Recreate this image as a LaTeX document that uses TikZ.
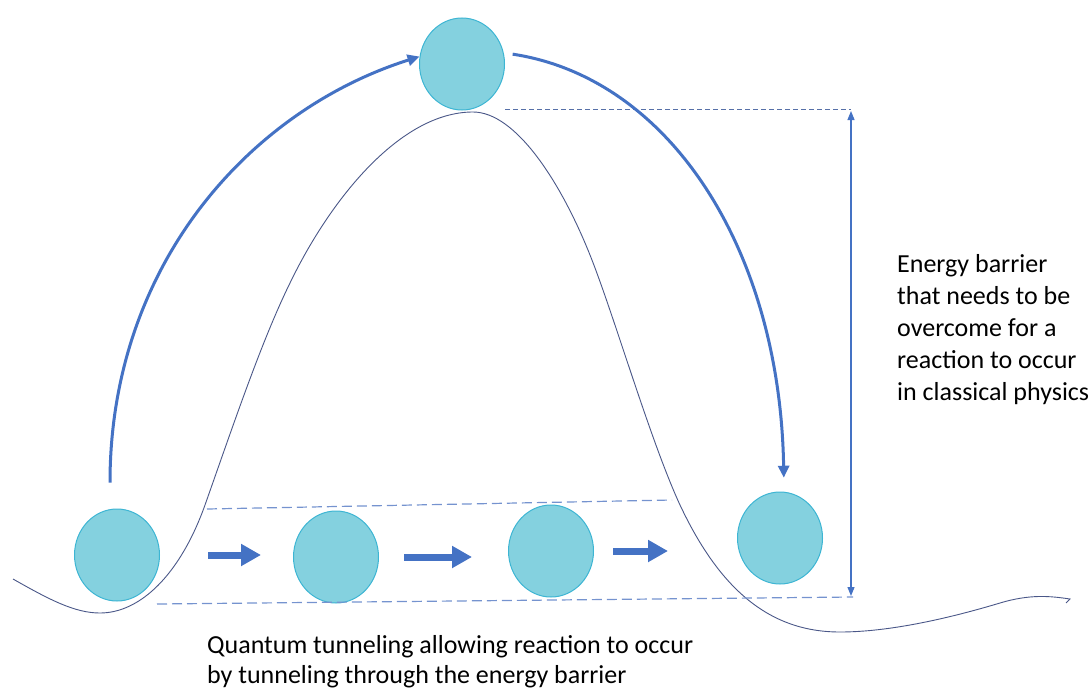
\documentclass[tikz,border=0pt]{standalone}
\usepackage{fontspec}
\setmainfont{Carlito}
\usetikzlibrary{arrows.meta, shapes.geometric}

\definecolor{ballfill}{HTML}{84D1DF}
\definecolor{balledge}{HTML}{3DB5D3}
\definecolor{flowblue}{HTML}{4472C4}
\definecolor{hillnavy}{HTML}{4A5788}
\definecolor{dashblue}{HTML}{7593CF}
\definecolor{topdash}{HTML}{5670A8}

\tikzset{
	ball/.style={shape=ellipse, draw=balledge, fill=ballfill, line width=1pt, minimum width=85pt, minimum height=92pt, inner sep=0pt},
	jump/.style={draw=flowblue, line width=3pt, -{Triangle[length=12pt, width=11pt]}},
	tunnel/.style={draw=flowblue, line width=7pt, -{Triangle[length=20pt, width=21pt]}},
	level/.style={draw=dashblue, line width=1.2pt, dash pattern=on 10pt off 5pt},
	note/.style={align=left, inner sep=0pt, font=\fontsize{26pt}{32pt}\selectfont},
}

\begin{document}
\begin{tikzpicture}[x=1pt, y=-1pt]
	\useasboundingbox (0,0) rectangle (1092,696);
	% Energy landscape:
	\draw[hillnavy, line width=0.9pt] (13,579) .. controls (50,600) and (75,613) .. (100,613) .. controls (140,613) and (180,575) .. (205,505) .. controls (235,420) and (262,340) .. (290,283) .. controls (330,200) and (400,112) .. (473,112) .. controls (515,112) and (560,180) .. (590,255) .. controls (614,315) and (650,440) .. (680,505) .. controls (720,590) and (770,632) .. (840,632) .. controls (890,632) and (950,618) .. (1000,603) .. controls (1030,594) and (1050,596) .. (1070,599) -- (1066,603);
	% Balls:
	\node[ball] (start) at (117,555){};
	\node[ball] (tunA) at (336,557){};
	\node[ball] (tunB) at (551,551){};
	\node[ball] (finish) at (780,538){};
	\node[ball] (summit) at (462,64){};
	% Levels and barrier height:
	\coordinate (peakline) at (505,109);
	\coordinate (bartop) at (851,109);
	\coordinate (tunup1) at (207,509);
	\coordinate (tunup2) at (672,500);
	\coordinate (tunlow) at (157,604);
	\coordinate (barbot) at (853,597);
	\draw[topdash, line width=0.8pt, dash pattern=on 5pt off 3pt] (peakline) -- (bartop);
	\draw[level] (tunup1) -- (tunup2);
	\draw[level] (tunlow) -- (barbot);
	\draw[flowblue, line width=1.2pt, {Triangle[length=9pt, width=7pt]}-{Triangle[length=9pt, width=7pt]}, shorten <=2pt, shorten >=1pt] (bartop) -- (bartop |- barbot);
	% Classical path over the barrier:
	\draw[jump] ([xshift=-7pt, yshift=26pt]start.north) .. controls (110,265) and (250,110) .. (summit.170);
	\draw[jump, shorten <=9pt, shorten >=14pt] (summit.15) .. controls (670,78) and (780,250) .. (finish.85);
	% Tunneling steps:
	\draw[tunnel, shorten <=48pt, shorten >=32pt] (start.east) -- (start.east -| tunA.west);
	\draw[tunnel, shorten <=25pt, shorten >=36pt] (tunA.east) -- (tunA.east -| tunB.west);
	\draw[tunnel, shorten <=19pt, shorten >=69pt] (tunB.east) -- (tunB.east -| finish.west);
	% Texts:
	\node[note, anchor=base west] (barriertext) at (897,400){Energy barrier\\that needs to be\\overcome for a\\reaction to occur\\in classical physics};
	\node[note, anchor=base west, font=\fontsize{26pt}{30pt}\selectfont] (tunneltext) at (207,683){Quantum tunneling allowing reaction to occur\\by tunneling through the energy barrier};
\end{tikzpicture}
\end{document}
